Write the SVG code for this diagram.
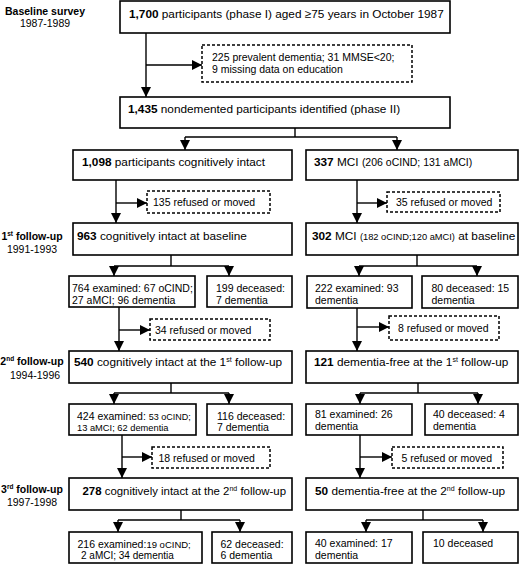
<svg xmlns="http://www.w3.org/2000/svg" width="520" height="564" viewBox="0 0 520 564">
<defs>
<marker id="ah" markerUnits="userSpaceOnUse" markerWidth="11" markerHeight="11" refX="10" refY="5" orient="auto">
<path d="M0,0 L10,5 L0,10 z" fill="#000"/>
</marker>
<style>
text{font-family:"Liberation Sans",Arial,sans-serif;fill:#000}
.m{font-size:11.8px}
.s{font-size:10.5px}
.lab{font-size:10.5px;text-anchor:middle}
.b{font-weight:bold}
.box{fill:#fff;stroke:#000;stroke-width:1.6}
.dbox{fill:#fff;stroke:#000;stroke-width:1.5;stroke-dasharray:3,2}
.c{fill:none;stroke:#000;stroke-width:1.4}
.a{marker-end:url(#ah)}
</style>
</defs>
<rect width="520" height="564" fill="#fff"/>

<g id="labels">
<text class="lab b" x="45" y="15">Baseline survey</text>
<text class="lab" x="45" y="27">1987-1989</text>
<text class="lab b" x="32" y="240">1<tspan font-size="6.5" dy="-4">st</tspan><tspan dy="4"> follow-up</tspan></text>
<text class="lab" x="32" y="252.5">1991-1993</text>
<text class="lab b" x="32" y="365">2<tspan font-size="6.5" dy="-4">nd</tspan><tspan dy="4"> follow-up</tspan></text>
<text class="lab" x="35" y="378.5">1994-1996</text>
<text class="lab b" x="32" y="493">3<tspan font-size="6.5" dy="-4">rd</tspan><tspan dy="4"> follow-up</tspan></text>
<text class="lab" x="32" y="506">1997-1998</text>
</g>

<g id="connectors">
<path class="c a" d="M146,33 V97"/>
<path class="c a" d="M146,65 H202"/>
<path class="c" d="M295,128 V137 M185,137 H397"/>
<path class="c a" d="M185,137 V150"/>
<path class="c a" d="M397,137 V150"/>
<path class="c a" d="M116,180 V223"/>
<path class="c a" d="M116,203 H147"/>
<path class="c a" d="M357,180 V223"/>
<path class="c a" d="M357,203 H387"/>
<path class="c" d="M171,255 V266 M114,266 H229"/>
<path class="c a" d="M114,266 V276"/>
<path class="c a" d="M229,266 V276"/>
<path class="c" d="M417,255 V266 M359,266 H477"/>
<path class="c a" d="M359,266 V276"/>
<path class="c a" d="M477,266 V276"/>
<path class="c a" d="M119,307 V351"/>
<path class="c a" d="M119,330 H150"/>
<path class="c a" d="M357,308 V351"/>
<path class="c a" d="M357,327 H389"/>
<path class="c" d="M171,383 V393 M114,393 H229"/>
<path class="c a" d="M114,393 V404"/>
<path class="c a" d="M229,393 V404"/>
<path class="c" d="M418,383 V393 M360,393 H478"/>
<path class="c a" d="M360,393 V404"/>
<path class="c a" d="M478,393 V404"/>
<path class="c a" d="M122,435 V478"/>
<path class="c a" d="M122,457 H152"/>
<path class="c a" d="M360,435 V478"/>
<path class="c a" d="M360,457 H392"/>
<path class="c" d="M181,510 V520 M118,520 H240"/>
<path class="c a" d="M118,520 V532"/>
<path class="c a" d="M240,520 V532"/>
<path class="c" d="M423,510 V520 M366,520 H483"/>
<path class="c a" d="M366,520 V532"/>
<path class="c a" d="M483,520 V532"/>
</g>

<g id="n1700">
<rect class="box" x="120" y="1" width="330" height="32"/>
<text class="m" x="129" y="17.5"><tspan class="b">1,700</tspan> participants (phase I) aged ≥75 years in October 1987</text>
</g>
<g id="nExcl">
<rect class="dbox" x="202" y="45" width="210" height="37"/>
<text class="s" x="212" y="61">225 prevalent dementia; 31 MMSE&lt;20;</text>
<text class="s" x="212" y="73">9 missing data on education</text>
</g>
<g id="n1435">
<rect class="box" x="120" y="97" width="330" height="31"/>
<text class="m" x="128" y="112.5"><tspan class="b">1,435</tspan> nondemented participants identified (phase II)</text>
</g>

<g id="n1098">
<rect class="box" x="73" y="150" width="219" height="30"/>
<text class="m" x="82" y="165.5"><tspan class="b">1,098</tspan> participants cognitively intact</text>
</g>
<g id="n337">
<rect class="box" x="306" y="150" width="212" height="30"/>
<text class="m" x="314" y="166"><tspan class="b">337</tspan> MCI <tspan font-size="10.5">(206 oCIND; 131 aMCI)</tspan></text>
</g>
<g id="n135">
<rect class="dbox" x="147" y="191" width="123" height="22"/>
<text class="s" x="153" y="206">135 refused or moved</text>
</g>
<g id="n35">
<rect class="dbox" x="387" y="192" width="113" height="20"/>
<text class="s" x="396" y="206">35 refused or moved</text>
</g>
<g id="n963">
<rect class="box" x="73" y="223" width="219" height="32"/>
<text class="m" x="77" y="240"><tspan class="b">963</tspan> cognitively intact at baseline</text>
</g>
<g id="n302">
<rect class="box" x="306" y="223" width="212" height="32"/>
<text class="m" x="312" y="239.5"><tspan class="b">302</tspan> MCI <tspan font-size="9.3">(182 oCIND;120 aMCI)</tspan> at baseline</text>
</g>

<g id="n764">
<rect class="box" x="69" y="276" width="126" height="31"/>
<text class="s" x="72" y="292">764 examined: 67 oCIND;</text>
<text class="s" x="72" y="304">27 aMCI; 96 dementia</text>
</g>
<g id="n199">
<rect class="box" x="207" y="276" width="85" height="31"/>
<text class="s" x="216" y="292">199 deceased:</text>
<text class="s" x="216" y="304">7 dementia</text>
</g>
<g id="n222">
<rect class="box" x="307" y="276" width="105" height="32"/>
<text class="s" x="315" y="292">222 examined: 93</text>
<text class="s" x="315" y="304">dementia</text>
</g>
<g id="n80">
<rect class="box" x="422" y="276" width="96" height="32"/>
<text class="s" x="431.5" y="292">80 deceased: 15</text>
<text class="s" x="431.5" y="304">dementia</text>
</g>
<g id="n34">
<rect class="dbox" x="150" y="319" width="120" height="21"/>
<text class="s" x="155" y="333.5">34 refused or moved</text>
</g>
<g id="n8">
<rect class="dbox" x="389" y="316" width="110" height="24"/>
<text class="s" x="398" y="332">8 refused or moved</text>
</g>
<g id="n540">
<rect class="box" x="69" y="351" width="223" height="32"/>
<text class="m" x="74" y="366"><tspan class="b">540</tspan> cognitively intact at the 1<tspan font-size="7" dy="-4">st</tspan><tspan dy="4"> follow-up</tspan></text>
</g>
<g id="n121">
<rect class="box" x="306" y="351" width="212" height="32"/>
<text class="m" x="314" y="366"><tspan class="b">121</tspan> dementia-free at the 1<tspan font-size="7" dy="-4">st</tspan><tspan dy="4"> follow-up</tspan></text>
</g>

<g id="n424">
<rect class="box" x="69" y="404" width="127" height="31"/>
<text class="s" x="77" y="420">424 examined: <tspan font-size="9">53 oCIND;</tspan></text>
<text x="77" y="431" font-size="9.3">13 aMCI; 62 dementia</text>
</g>
<g id="n116">
<rect class="box" x="207" y="404" width="85" height="31"/>
<text class="s" x="217" y="420">116 deceased:</text>
<text class="s" x="217" y="431">7 dementia</text>
</g>
<g id="n81">
<rect class="box" x="306" y="404" width="106" height="31"/>
<text class="s" x="315" y="418">81 examined: 26</text>
<text class="s" x="315" y="430">dementia</text>
</g>
<g id="n40d">
<rect class="box" x="425" y="404" width="93" height="31"/>
<text class="s" x="433" y="418">40 deceased: 4</text>
<text class="s" x="433" y="430">dementia</text>
</g>
<g id="n18">
<rect class="dbox" x="152" y="447" width="118" height="21"/>
<text class="s" x="158.5" y="461.5">18 refused or moved</text>
</g>
<g id="n5">
<rect class="dbox" x="392" y="447" width="111" height="21"/>
<text class="s" x="401.5" y="461.5">5 refused or moved</text>
</g>
<g id="n278">
<rect class="box" x="69" y="478" width="223" height="32"/>
<text x="82.5" y="495" style="font-size:11.4px"><tspan class="b">278</tspan> cognitively intact at the 2<tspan font-size="7" dy="-4">nd</tspan><tspan dy="4"> follow-up</tspan></text>
</g>
<g id="n50">
<rect class="box" x="306" y="478" width="212" height="32"/>
<text class="m" x="315" y="494.5"><tspan class="b">50</tspan> dementia-free at the 2<tspan font-size="7" dy="-4">nd</tspan><tspan dy="4"> follow-up</tspan></text>
</g>

<g id="n216">
<rect class="box" x="69" y="532" width="133" height="31"/>
<text class="s" x="77.5" y="548">216 examined:<tspan font-size="9.5">19 oCIND;</tspan></text>
<text x="81" y="559" font-size="10">2 aMCI; 34 dementia</text>
</g>
<g id="n62">
<rect class="box" x="212" y="532" width="80" height="31"/>
<text class="s" x="220.5" y="548">62 deceased:</text>
<text class="s" x="220.5" y="559">6 dementia</text>
</g>
<g id="n40e">
<rect class="box" x="306" y="532" width="106" height="31"/>
<text class="s" x="315" y="547">40 examined: 17</text>
<text class="s" x="315" y="559">dementia</text>
</g>
<g id="n10">
<rect class="box" x="423" y="532" width="95" height="31"/>
<text class="s" x="433" y="547">10 deceased</text>
</g>
</svg>
